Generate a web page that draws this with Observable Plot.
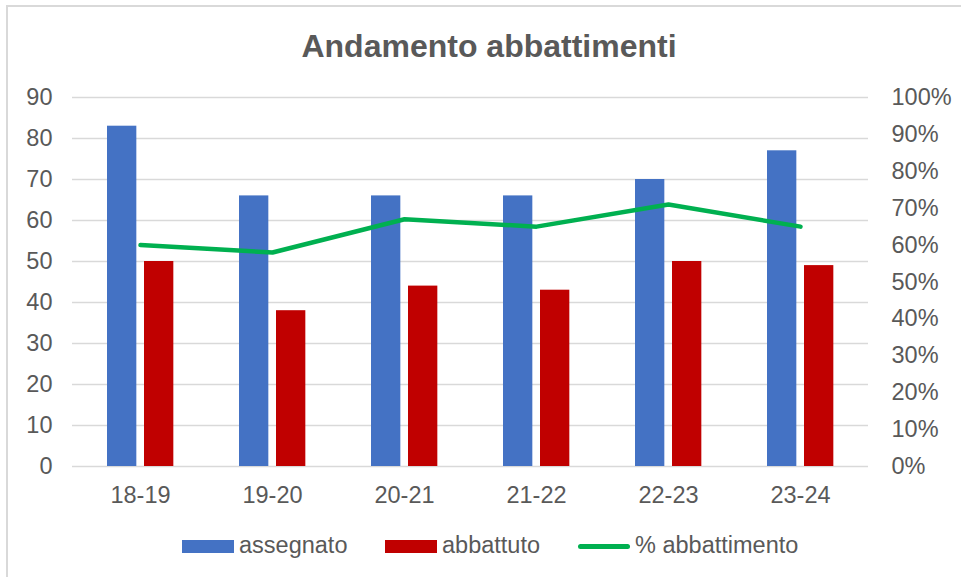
<!DOCTYPE html>
<html>
<head>
<meta charset="utf-8">
<script src="https://cdn.jsdelivr.net/npm/d3@7"></script>
<script src="https://cdn.jsdelivr.net/npm/@observablehq/plot@0.6"></script>
<style>
  html, body { margin: 0; padding: 0; background: #ffffff; }
  #wrap { position: relative; width: 961px; height: 577px; overflow: hidden; font-family: "Liberation Sans", Arial, sans-serif; color: #595959; }
  #frame { position: absolute; left: 6px; top: 5px; width: 1000px; height: 620px; border: 2px solid #d9d9d9; box-sizing: border-box; }
  #title { position: absolute; left: 0; width: 978px; top: 30px; text-align: center; font-size: 32px; font-weight: bold; line-height: 1; color: #595959; }
  #chart { position: absolute; left: 0; top: 0; }
  .item { position: absolute; top: 532px; height: 28px; display: flex; align-items: center; font-size: 23.5px; line-height: 1; color: #595959; white-space: nowrap; }
  .sw { width: 52px; height: 13px; margin-right: 5px; }
  .ln { width: 52px; height: 5px; border-radius: 3px; margin-right: 5px; }
</style>
</head>
<body>
<div id="wrap">
  <div id="frame"></div>
  <div id="chart"></div>
  <div id="title"></div>
  <div id="legend"></div>
</div>
<script>
const titleText = "Andamento abbattimenti";
const categories = ["18-19", "19-20", "20-21", "21-22", "22-23", "23-24"];
const assegnato = [83, 66, 66, 66, 70, 77];
const abbattuto = [50, 38, 44, 43, 50, 49];
const percentuale = [60, 58, 67, 65, 71, 65];
const leftTicks = [0, 10, 20, 30, 40, 50, 60, 70, 80, 90];
const rightTicks = [0, 10, 20, 30, 40, 50, 60, 70, 80, 90, 100];
const seriesNames = ["assegnato", "abbattuto", "% abbattimento"];
const seriesColors = ["#4472C4", "#C00000", "#00B050"];

const rows = categories.map((c, i) => ({cat: c, assegnato: assegnato[i], abbattuto: abbattuto[i], pct: percentuale[i]}));
const leftMax = 90;
const pctToY = p => p / 100 * leftMax;

document.getElementById("title").textContent = titleText;

const chart = Plot.plot({
  width: 961,
  height: 577,
  marginLeft: 72,
  marginRight: 93,
  marginTop: 97,
  marginBottom: 111,
  style: {fontFamily: "'Liberation Sans', Arial, sans-serif", fontSize: "23.5px", color: "#595959", background: "transparent", overflow: "visible"},
  x: {type: "band", domain: categories, padding: 0, label: null},
  y: {domain: [0, leftMax], label: null},
  marks: [
    Plot.ruleY(leftTicks, {stroke: "#d9d9d9", strokeWidth: 1.5}),
    Plot.barY(rows, {x: "cat", y: "assegnato", fill: seriesColors[0], insetLeft: 33, insetRight: 69.67}),
    Plot.barY(rows, {x: "cat", y: "abbattuto", fill: seriesColors[1], insetLeft: 70, insetRight: 32.67}),
    Plot.lineY(rows, {x: "cat", y: d => pctToY(d.pct), stroke: seriesColors[2], strokeWidth: 4.5, strokeLinecap: "round", strokeLinejoin: "round"}),
    Plot.axisY({ticks: leftTicks, tickSize: 0, tickPadding: 20, label: null, fill: "#595959"}),
    Plot.axisY({anchor: "right", ticks: rightTicks.map(pctToY), tickFormat: d => Math.round(d / leftMax * 100) + "%", tickSize: 0, tickPadding: 23, label: null, fill: "#595959"}),
    Plot.axisX({tickSize: 0, tickPadding: 20, label: null, fill: "#595959"})
  ]
});
document.getElementById("chart").appendChild(chart);

const legend = document.getElementById("legend");
const lefts = [182, 385, 578];
seriesNames.forEach((name, i) => {
  const item = document.createElement("div");
  item.className = "item";
  item.style.left = lefts[i] + "px";
  const sw = document.createElement("div");
  sw.className = i === 2 ? "ln" : "sw";
  sw.style.background = seriesColors[i];
  const tx = document.createElement("span");
  tx.textContent = name;
  item.appendChild(sw);
  item.appendChild(tx);
  legend.appendChild(item);
});
</script>
</body>
</html>
